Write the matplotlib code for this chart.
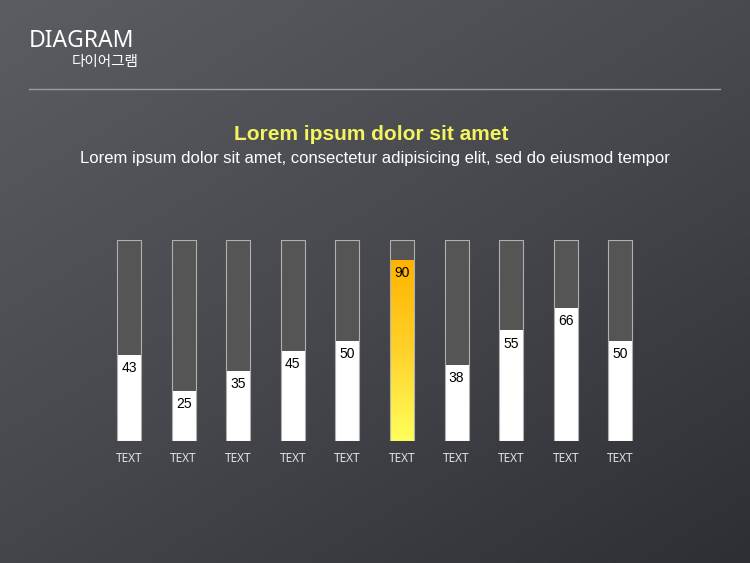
import numpy as np
import matplotlib.pyplot as plt
from matplotlib.colors import LinearSegmentedColormap

# datos
categorias = ["TEXT"] * 10
valores = [43, 25, 35, 45, 50, 90, 38, 55, 66, 50]
destacado = 5
maximo = 100

titulo = "Lorem ipsum dolor sit amet"
subtitulo = "Lorem ipsum dolor sit amet, consectetur adipisicing elit, sed do eiusmod tempor"

fig = plt.figure(figsize=(7.5, 5.63), dpi=100)

# fondo con degradado diagonal
bg = fig.add_axes([0, 0, 1, 1], zorder=0)
yy, xx = np.mgrid[0:1:200j, 0:1:260j]
grad = (xx * 0.45 + yy * 0.55)
cmap_bg = LinearSegmentedColormap.from_list("bg", ["#5b5d62", "#46484d", "#2d2f35"])
bg.imshow(grad, cmap=cmap_bg, extent=[0, 1, 0, 1], aspect="auto", origin="upper")
bg.set_xlim(0, 1)
bg.set_ylim(0, 1)
bg.axis("off")

# cabecera
fig.text(29 / 750, 1 - 41 / 563, "DIAGRAM", color="white", fontsize=16.5,
         family=["Noto Sans", "DejaVu Sans"], va="center", ha="left")
fig.text(139 / 750, 1 - 62 / 563, "다이어그램", color="white", fontsize=10.5,
         family=["Noto Sans CJK KR", "DejaVu Sans"], va="center", ha="right")
bg.plot([29 / 750, 720 / 750], [1 - 89 / 563] * 2, color="#9a9b9e", lw=1)

fig.text(371 / 750, 1 - 135 / 563, titulo, color="#f4f45f", fontsize=15,
         fontweight="bold", family="Liberation Sans", ha="center", va="center")
fig.text(375 / 750, 1 - 159 / 563, subtitulo, color="white", fontsize=12,
         family="Liberation Sans", ha="center", va="center")

# barras
ax = fig.add_axes([101.7 / 750, (563 - 441) / 563, 546 / 750, 201 / 563], zorder=1)
ax.set_facecolor("none")
x = np.arange(len(valores))
w = 0.44

ax.bar(x, maximo, width=w, color="#555555", edgecolor="none", zorder=1)
colores = ["white" if i != destacado else "none" for i in x]
ax.bar(x, valores, width=w, color=colores, edgecolor="none", zorder=2)

# degradado de la barra destacada
cmap_y = LinearSegmentedColormap.from_list("am", ["#ffb300", "#ffd22a", "#ffff5c"])
grad_y = np.linspace(0, 1, 256).reshape(-1, 1)
ax.imshow(grad_y, cmap=cmap_y, aspect="auto", origin="upper",
          extent=[destacado - w / 2, destacado + w / 2, 0, valores[destacado]], zorder=2)
ax.bar(x, maximo, width=w, color="none", edgecolor="#b0b0b0", linewidth=0.8, zorder=3)

for i, v in enumerate(valores):
    ax.text(i, v - 6.5, str(v), ha="center", va="center", fontsize=10,
            family="Liberation Sans", color="black", zorder=4)

ax.set_xlim(-0.5, len(valores) - 0.5)
ax.set_ylim(0, maximo)
ax.set_xticks(x)
ax.set_xticklabels(categorias, color="#e0e0e0", fontsize=8.5, family="Noto Sans")
ax.tick_params(axis="x", length=0, pad=8)
ax.set_yticks([])
for s in ax.spines.values():
    s.set_visible(False)

plt.savefig("out.png", dpi=100)
